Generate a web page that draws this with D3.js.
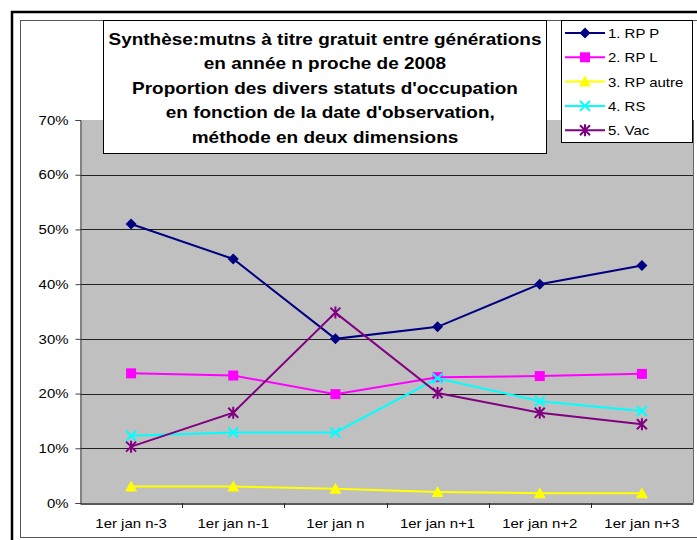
<!DOCTYPE html>
<html>
<head>
<meta charset="utf-8">
<script src="https://cdn.jsdelivr.net/npm/d3@7"></script>
<style>
body { margin: 0; background: #fff; }
svg { display: block; font-family: Arial, "Liberation Sans", sans-serif; }
</style>
</head>
<body>
<div id="chart"></div>
<script>
var categories = ["1er jan n-3", "1er jan n-1", "1er jan n", "1er jan n+1", "1er jan n+2", "1er jan n+3"];
var rpP = [51.0, 44.6, 30.0, 32.2, 40.0, 43.4];
var rpL = [23.7, 23.3, 19.9, 23.0, 23.2, 23.6];
var rpAutre = [3.0, 3.0, 2.6, 2.0, 1.8, 1.8];
var rs = [12.3, 12.9, 12.9, 22.8, 18.6, 16.8];
var vac = [10.3, 16.5, 34.8, 20.1, 16.5, 14.4];
var yTicks = [0, 10, 20, 30, 40, 50, 60, 70];
var seriesNames = ["1. RP P", "2. RP L", "3. RP autre", "4. RS", "5. Vac"];
var titleLines = [
    "Synthèse:mutns à titre gratuit entre générations",
    "en année n proche de 2008",
    "Proportion des divers statuts d'occupation",
    "  en fonction de la date d'observation,",
    "méthode en deux dimensions"
];

var series = [
    { name: seriesNames[0], values: rpP, color: "#000080", marker: "diamond" },
    { name: seriesNames[1], values: rpL, color: "#ff00ff", marker: "square" },
    { name: seriesNames[2], values: rpAutre, color: "#ffff00", marker: "triangle" },
    { name: seriesNames[3], values: rs, color: "#00ffff", marker: "cross" },
    { name: seriesNames[4], values: vac, color: "#800080", marker: "star" }
];

var width = 697, height = 540;
var plot = { left: 80, right: 693, top: 120, bottom: 503 };
// the original text renders a bit wider than Arial
var stretch = 1.15;

var svg = d3.select("#chart").append("svg")
    .attr("width", width)
    .attr("height", height);

// frames
svg.append("rect")
    .attr("x", 12).attr("y", 12)
    .attr("width", 700).attr("height", 540)
    .attr("fill", "#fff").attr("stroke", "#000").attr("stroke-width", 2.5);
svg.append("rect")
    .attr("x", 20.5).attr("y", 20.5)
    .attr("width", 690).attr("height", 517)
    .attr("fill", "none").attr("stroke", "#555").attr("stroke-width", 1);

var x = d3.scaleBand()
    .domain(categories)
    .range([plot.left, plot.right]);
var y = d3.scaleLinear()
    .domain([0, 70])
    .range([plot.bottom, plot.top]);

svg.append("rect")
    .attr("x", plot.left).attr("y", plot.top)
    .attr("width", plot.right - plot.left).attr("height", plot.bottom - plot.top)
    .attr("fill", "#c0c0c0");

// gridlines
svg.append("g")
    .selectAll("line")
    .data(yTicks.filter(function(d) { return d > 0 && d < 70; }))
    .enter().append("line")
    .attr("x1", plot.left).attr("x2", plot.right)
    .attr("y1", function(d) { return Math.round(y(d)) + 0.5; })
    .attr("y2", function(d) { return Math.round(y(d)) + 0.5; })
    .attr("stroke", "#222").attr("stroke-width", 1);

svg.append("line")
    .attr("x1", plot.right + 0.5).attr("x2", plot.right + 0.5)
    .attr("y1", plot.top).attr("y2", plot.bottom)
    .attr("stroke", "#666");

// axes
var yAxis = svg.append("g")
    .attr("transform", "translate(" + (plot.left + 0.5) + ",0)")
    .call(d3.axisLeft(y).tickValues(yTicks).tickSize(5).tickPadding(6)
        .tickFormat(function(d) { return d + "%"; }));
yAxis.select(".domain").attr("stroke", "#444");
yAxis.selectAll(".tick line").attr("stroke", "#444");
yAxis.selectAll("text").attr("font-size", 13).attr("fill", "#000")
    .attr("font-family", "Arial, 'Liberation Sans', sans-serif")
    .attr("x", -12 / stretch)
    .attr("transform", "scale(" + stretch + ",1)");

var xAxis = svg.append("g")
    .attr("transform", "translate(0," + (plot.bottom + 0.5) + ")")
    .call(d3.axisBottom(x).tickSize(0).tickPadding(15));
xAxis.select(".domain").attr("stroke", "#222").attr("stroke-width", 1.5);
xAxis.selectAll("text").attr("font-size", 13).attr("fill", "#000")
    .attr("font-family", "Arial, 'Liberation Sans', sans-serif")
    .attr("transform", "scale(" + stretch + ",1)");
// category separators
svg.append("g")
    .selectAll("line")
    .data(categories.slice(1))
    .enter().append("line")
    .attr("x1", function(d) { return Math.round(x(d)) + 0.5; })
    .attr("x2", function(d) { return Math.round(x(d)) + 0.5; })
    .attr("y1", plot.bottom).attr("y2", plot.bottom + 5)
    .attr("stroke", "#222");

var cx = function(i) { return x(categories[i]) + x.bandwidth() / 2; };

var line = d3.line()
    .x(function(d, i) { return cx(i); })
    .y(function(d) { return y(d); });

function drawMarker(g, type, color, px, py) {
    var t = "translate(" + px + "," + py + ")";
    if (type === "diamond") {
        g.append("path")
            .attr("d", "M0,-5.5L5.5,0L0,5.5L-5.5,0Z")
            .attr("transform", t)
            .attr("fill", color);
    } else if (type === "square") {
        g.append("rect")
            .attr("x", px - 5).attr("y", py - 5)
            .attr("width", 10).attr("height", 10)
            .attr("fill", color);
    } else if (type === "triangle") {
        g.append("path")
            .attr("d", "M0,-6L6,5L-6,5Z")
            .attr("transform", t)
            .attr("fill", color);
    } else if (type === "cross") {
        g.append("path")
            .attr("d", "M-5,-5L5,5M-5,5L5,-5")
            .attr("transform", t)
            .attr("stroke", color).attr("stroke-width", 2).attr("fill", "none");
    } else if (type === "star") {
        g.append("path")
            .attr("d", "M-5,-5L5,5M-5,5L5,-5M0,-6L0,6")
            .attr("transform", t)
            .attr("stroke", color).attr("stroke-width", 2).attr("fill", "none");
    }
}

series.forEach(function(s) {
    var g = svg.append("g");
    g.append("path")
        .datum(s.values)
        .attr("d", line)
        .attr("fill", "none")
        .attr("stroke", s.color)
        .attr("stroke-width", 2);
    s.values.forEach(function(v, i) {
        drawMarker(g, s.marker, s.color, cx(i), y(v));
    });
});

// title box
var tb = svg.append("g");
tb.append("rect")
    .attr("x", 103.5).attr("y", 20.5)
    .attr("width", 443).attr("height", 133)
    .attr("fill", "#fff").attr("stroke", "#000").attr("stroke-width", 1);
tb.selectAll("text")
    .data(titleLines)
    .enter().append("text")
    .attr("x", 325 / stretch)
    .attr("y", function(d, i) { return 45 + i * 24.5; })
    .attr("transform", "scale(" + stretch + ",1)")
    .attr("text-anchor", "middle")
    .attr("font-size", 16.5)
    .attr("font-weight", "bold")
    .attr("xml:space", "preserve")
    .style("white-space", "pre")
    .text(function(d) { return d; });

// legend
var lg = svg.append("g");
lg.append("rect")
    .attr("x", 561.5).attr("y", 20.5)
    .attr("width", 131).attr("height", 122)
    .attr("fill", "#fff").attr("stroke", "#000").attr("stroke-width", 1);
series.forEach(function(s, i) {
    var ly = 33 + i * 24.3;
    lg.append("line")
        .attr("x1", 565).attr("x2", 605)
        .attr("y1", ly).attr("y2", ly)
        .attr("stroke", s.color).attr("stroke-width", 2);
    drawMarker(lg, s.marker, s.color, 585, ly);
    lg.append("text")
        .attr("x", 608 / stretch).attr("y", ly + 5)
        .attr("transform", "scale(" + stretch + ",1)")
        .attr("font-size", 13)
        .text(s.name);
});
</script>
</body>
</html>
